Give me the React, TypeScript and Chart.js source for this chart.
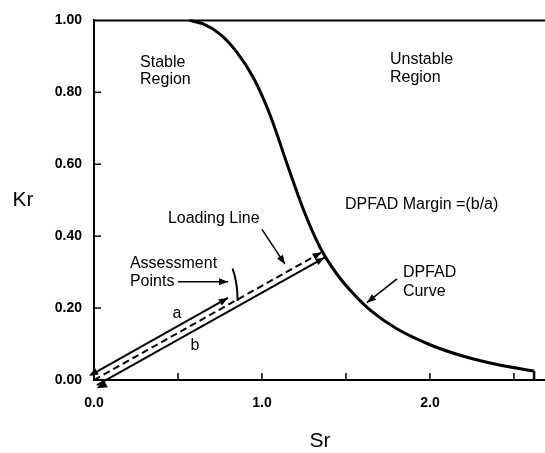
import React, { useEffect, useRef } from "react";
import { Chart, registerables } from "chart.js";

Chart.register(...registerables);

// ---- Data ----
// DPFAD failure assessment curve: Sr (load ratio) vs Kr (toughness ratio)
const SR = [0.57, 0.65, 0.75, 0.85, 0.95, 1.05, 1.15, 1.25, 1.35, 1.45, 1.55, 1.65, 1.8, 2.0, 2.2, 2.4, 2.62];
const KR = [1.0, 0.99, 0.962, 0.912, 0.84, 0.735, 0.6, 0.47, 0.365, 0.292, 0.237, 0.192, 0.143, 0.098, 0.066, 0.043, 0.025];

const SR_CUTOFF = 2.62;
const KR_CUTOFF = 0.025;
const SR_AXIS_MAX = 2.685;

const X_TICKS = [0, 0.5, 1, 1.5, 2, 2.5];
const X_LABELED = [0, 1, 2];
const Y_TICKS = [0, 0.2, 0.4, 0.6, 0.8, 1.0];

// Loading line: origin -> intersection with DPFAD curve; assessment point on it
const ORIGIN = { x: 0, y: 0 };
const LOAD_END = { x: 1.355, y: 0.355 };
const ASSESS = { x: 0.815, y: 0.2135 };

// Annotation anchors (data units)
const ASSESS_MARK_TOP = { x: 0.825, y: 0.31 };
const ASSESS_MARK_BOTTOM = { x: 0.855, y: 0.22 };
const POINTS_ARROW = [{ x: 0.5, y: 0.273 }, { x: 0.798, y: 0.273 }];
const LOADING_ARROW = [{ x: 1.0, y: 0.419 }, { x: 1.137, y: 0.322 }];
const CURVE_ARROW = [{ x: 1.804, y: 0.281 }, { x: 1.625, y: 0.215 }];

const LABELS = [
  { text: "Stable", x: 0.274, y: 0.884 },
  { text: "Region", x: 0.274, y: 0.835 },
  { text: "Unstable", x: 1.762, y: 0.89 },
  { text: "Region", x: 1.762, y: 0.84 },
  { text: "DPFAD Margin =(b/a)", x: 1.494, y: 0.488 },
  { text: "DPFAD", x: 1.839, y: 0.3 },
  { text: "Curve", x: 1.839, y: 0.245 },
  { text: "Loading Line", x: 0.44, y: 0.449 },
  { text: "Assessment", x: 0.214, y: 0.325 },
  { text: "Points", x: 0.214, y: 0.273 },
];
const LINE_LABELS = [
  { text: "a", x: 0.494, y: 0.185 },
  { text: "b", x: 0.601, y: 0.096 },
];

const FONT = '"Liberation Sans", Arial, Helvetica, sans-serif';

function arrowHead(ctx: CanvasRenderingContext2D, fx: number, fy: number, tx: number, ty: number, len = 9, half = 3.5) {
  const a = Math.atan2(ty - fy, tx - fx);
  const c = Math.cos(a), s = Math.sin(a);
  ctx.beginPath();
  ctx.moveTo(tx, ty);
  ctx.lineTo(tx - len * c + half * s, ty - len * s - half * c);
  ctx.lineTo(tx - len * c - half * s, ty - len * s + half * c);
  ctx.closePath();
  ctx.fill();
}

function seg(ctx: CanvasRenderingContext2D, x1: number, y1: number, x2: number, y2: number) {
  ctx.beginPath();
  ctx.moveTo(x1, y1);
  ctx.lineTo(x2, y2);
  ctx.stroke();
}

const annotate = {
  id: "annotate",
  afterDatasetsDraw(chart: any) {
    const { ctx, chartArea: ca, scales } = chart;
    const xs = scales.x, ys = scales.y;
    const P = (p: { x: number; y: number }) => ({ x: xs.getPixelForValue(p.x), y: ys.getPixelForValue(p.y) });
    ctx.save();
    ctx.strokeStyle = "#000";
    ctx.fillStyle = "#000";
    ctx.lineCap = "butt";

    // inward tick marks
    ctx.lineWidth = 1.5;
    for (const v of X_TICKS) {
      if (v === 0) continue;
      const X = xs.getPixelForValue(v);
      seg(ctx, X, ca.bottom, X, ca.bottom - 7);
    }
    for (const v of Y_TICKS) {
      if (v === 0 || v === 1) continue;
      const Y = ys.getPixelForValue(v);
      seg(ctx, ca.left, Y, ca.left + 7, Y);
    }

    // offset dimension lines a and b, parallel to the loading line
    const o = P(ORIGIN), e = P(LOAD_END), A = P(ASSESS);
    const dx = e.x - o.x, dy = e.y - o.y, L = Math.hypot(dx, dy);
    const nx = dy / L, ny = -dx / L; // normal pointing up-left
    const off = 6;
    ctx.lineWidth = 2;
    // line a (above): origin -> assessment point
    const a1 = { x: o.x + nx * off, y: o.y + ny * off };
    const a2 = { x: A.x + nx * off, y: A.y + ny * off };
    seg(ctx, a1.x, a1.y, a2.x, a2.y);
    arrowHead(ctx, a1.x, a1.y, a2.x, a2.y);
    arrowHead(ctx, a2.x, a2.y, a1.x - 2, a1.y + 1);
    // line b (below): origin -> curve intersection
    const b1 = { x: o.x - nx * off, y: o.y - ny * off };
    const b2 = { x: e.x - nx * off, y: e.y - ny * off };
    seg(ctx, b1.x, b1.y, b2.x, b2.y);
    arrowHead(ctx, b1.x, b1.y, b2.x, b2.y);
    arrowHead(ctx, b2.x, b2.y, b1.x, b1.y + 3, 10, 4.5);
    // dashed loading-line arrowhead
    arrowHead(ctx, o.x, o.y, e.x, e.y, 9, 3.5);

    // assessment point mark
    const mt = P(ASSESS_MARK_TOP), mb = P(ASSESS_MARK_BOTTOM);
    ctx.lineWidth = 2;
    ctx.beginPath();
    ctx.moveTo(mt.x, mt.y);
    ctx.quadraticCurveTo(mt.x + 5, (mt.y + mb.y) / 2 - 2, mb.x, mb.y);
    ctx.stroke();

    // pointer arrows
    ctx.lineWidth = 1.5;
    for (const arr of [POINTS_ARROW, LOADING_ARROW, CURVE_ARROW]) {
      const s = P(arr[0]), t = P(arr[1]);
      seg(ctx, s.x, s.y, t.x, t.y);
      arrowHead(ctx, s.x, s.y, t.x, t.y, 9, 3.5);
    }

    // text annotations
    ctx.font = `16px ${FONT}`;
    ctx.textAlign = "left";
    ctx.textBaseline = "middle";
    for (const l of LABELS) {
      const p = P(l);
      ctx.fillText(l.text, p.x, p.y);
    }
    ctx.textAlign = "center";
    for (const l of LINE_LABELS) {
      const p = P(l);
      ctx.fillText(l.text, p.x, p.y);
    }

    // axis titles (horizontal, as in the reference)
    ctx.font = `21px ${FONT}`;
    ctx.textAlign = "center";
    ctx.fillText("Kr", ca.left - 71, ys.getPixelForValue(0.5));
    ctx.fillText("Sr", xs.getPixelForValue(1.345), ca.bottom + 61);
    ctx.restore();
  },
};

export default function App() {
  const ref = useRef<HTMLCanvasElement | null>(null);
  useEffect(() => {
    if (!ref.current) return;
    const chart = new Chart(ref.current, {
      type: "line",
      data: {
        datasets: [
          {
            label: "DPFAD Curve",
            data: SR.map((s, i) => ({ x: s, y: KR[i] })),
            borderColor: "#000",
            borderWidth: 3,
            pointRadius: 0,
            cubicInterpolationMode: "monotone",
            fill: false,
            clip: false,
          },
          {
            label: "Sr cut-off",
            data: [{ x: SR_CUTOFF, y: KR_CUTOFF }, { x: SR_CUTOFF, y: 0 }],
            borderColor: "#000",
            borderWidth: 2.5,
            pointRadius: 0,
            tension: 0,
            clip: false,
          },
          {
            label: "Kr = 1",
            data: [{ x: 0, y: 1 }, { x: SR_AXIS_MAX, y: 1 }],
            borderColor: "#000",
            borderWidth: 2,
            pointRadius: 0,
            tension: 0,
            clip: false,
          },
          {
            label: "Loading Line",
            data: [ORIGIN, LOAD_END],
            borderColor: "#000",
            borderWidth: 2,
            borderDash: [7, 4],
            pointRadius: 0,
            tension: 0,
            clip: false,
          },
        ],
      },
      options: {
        animation: false,
        responsive: false,
        layout: { padding: { top: 17, right: 0, left: 0, bottom: 0 } },
        plugins: { legend: { display: false }, tooltip: { enabled: false } },
        scales: {
          x: {
            type: "linear",
            min: 0,
            max: SR_AXIS_MAX,
            grid: { display: false, drawTicks: false },
            border: { display: true, color: "#000", width: 2 },
            afterBuildTicks: (s: any) => {
              s.ticks = X_TICKS.map((v) => ({ value: v }));
            },
            afterFit: (s: any) => {
              s.height = 73;
            },
            ticks: {
              color: "#000",
              padding: 15,
              maxRotation: 0,
              autoSkip: false,
              font: { family: FONT, size: 14, weight: "bold" },
              callback: (v: any) => (X_LABELED.includes(Number(v)) ? Number(v).toFixed(1) : ""),
            },
          },
          y: {
            type: "linear",
            min: 0,
            max: 1,
            grid: { display: false, drawTicks: false },
            border: { display: true, color: "#000", width: 2 },
            afterBuildTicks: (s: any) => {
              s.ticks = Y_TICKS.map((v) => ({ value: v }));
            },
            afterFit: (s: any) => {
              s.width = 94;
            },
            ticks: {
              color: "#000",
              padding: 12,
              autoSkip: false,
              font: { family: FONT, size: 14, weight: "bold" },
              callback: (v: any) => Number(v).toFixed(2),
            },
          },
        },
      },
      plugins: [annotate],
    } as any);
    return () => chart.destroy();
  }, []);
  return (
    <div style={{ position: "absolute", left: 0, top: 0, width: 545, height: 453, background: "#fff" }}>
      <canvas ref={ref} width={545} height={453} style={{ display: "block" }} />
    </div>
  );
}
